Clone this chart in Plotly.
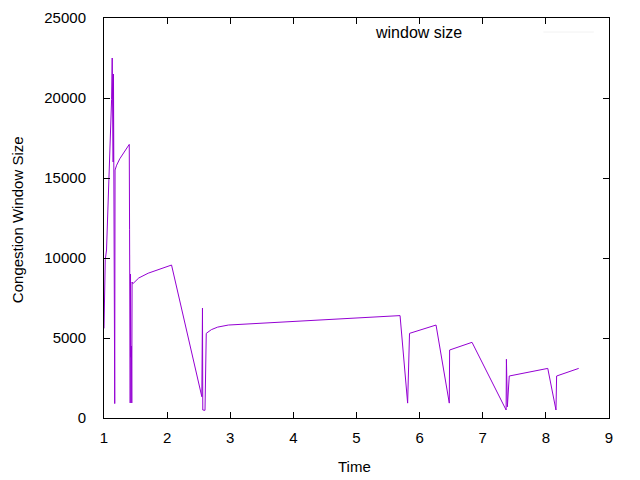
import plotly.graph_objects as go

# congestion window trace
time = [1.00, 1.01, 1.02, 1.04, 1.07, 1.09, 1.11, 1.12, 1.13, 1.135, 1.14, 1.145,
        1.15, 1.155, 1.16, 1.165, 1.17, 1.175, 1.20, 1.25, 1.30, 1.35, 1.40,
        1.405, 1.41, 1.415, 1.42, 1.425, 1.43, 1.435, 1.44, 1.445, 1.45, 1.455,
        1.47, 1.55, 1.70, 1.90, 2.07, 2.55, 2.56, 2.565, 2.60, 2.62, 2.70,
        2.80, 2.97, 5.69, 5.81, 5.84, 6.26, 6.47, 6.475, 6.83, 7.37, 7.375,
        7.39, 7.42, 8.03, 8.16, 8.17, 8.52]
cwnd = [5600, 7800, 9900, 10500, 13800, 15300, 17500, 19900, 22500, 18500, 22000, 16000,
        21500, 11800, 15600, 14000, 900, 15500, 15800, 16200, 16500, 16800, 17100,
        11800, 4000, 940, 9000, 3800, 8800, 4500, 940, 8500, 5000, 8400,
        8440, 8750, 9050, 9300, 9560, 1330, 6870, 500, 480, 5290, 5520,
        5680, 5810, 6400, 930, 5290, 5810, 930, 4250, 4730, 500, 3670,
        700, 2625, 3100, 500, 2625, 3100]

x_ticks = [1, 2, 3, 4, 5, 6, 7, 8, 9]
y_ticks = [0, 5000, 10000, 15000, 20000, 25000]

fig = go.Figure()
fig.add_trace(go.Scatter(x=time, y=cwnd, mode="lines", name="window size",
                         line=dict(color="#9400d3", width=1), showlegend=False))

axis_style = dict(showgrid=False, zeroline=False, showline=True, linecolor="black",
                  linewidth=1, mirror="ticks", ticks="inside", ticklen=6,
                  tickcolor="black", tickfont=dict(size=15, color="black"),
                  automargin=False)

# axis titles and key text as annotations so they sit where gnuplot put them
labels = [
    dict(text="Time", x=0.497, y=-0.12, textangle=0, xanchor="center", font=dict(size=15)),
    dict(text="Congestion Window Size", x=-0.172, y=0.495, textangle=-90, xanchor="center", font=dict(size=15)),
    dict(text="window size", x=0.713, y=0.965, textangle=0, xanchor="right", font=dict(size=16)),
]
for a in labels:
    a.update(xref="paper", yref="paper", yanchor="middle", showarrow=False)

# page body has an 8px margin, so the figure is trimmed by that much
fig.update_layout(
    width=632, height=472,
    plot_bgcolor="white", paper_bgcolor="white",
    font=dict(family="Liberation Sans, Arial, sans-serif", color="black", size=15),
    margin=dict(l=96, r=31, t=10, b=62),
    xaxis=dict(range=[1, 9], tickvals=x_ticks, ticktext=[str(v) for v in x_ticks],
               ticklabelstandoff=6, **axis_style),
    yaxis=dict(range=[0, 25000], tickvals=y_ticks, ticktext=[str(v) for v in y_ticks],
               ticklabelstandoff=14, **axis_style),
    annotations=labels,
    shapes=[dict(type="line", xref="paper", yref="paper", x0=0.87, x1=0.97, y0=0.965, y1=0.965,
                 line=dict(color="#f2f2f2", width=1))],
)

fig.write_html("out.html")
